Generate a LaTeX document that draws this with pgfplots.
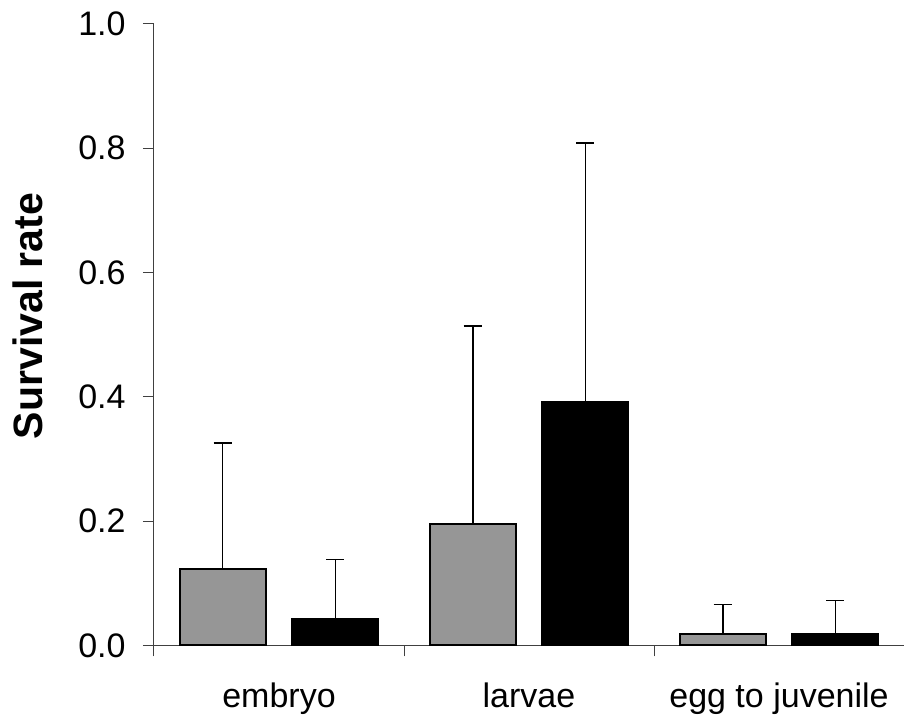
\documentclass[border=0pt]{standalone}
\usepackage{pgfplots}
\pgfplotsset{compat=1.18}
\usepackage{fontspec}
\setmainfont{Liberation Sans}
\definecolor{bargray}{RGB}{150,150,150}
\begin{document}
\begin{tikzpicture}
\useasboundingbox (-77pt,-38.35pt) rectangle (375pt,322.65pt);
\begin{axis}[
  scale only axis,
  width=375pt, height=310.65pt,
  at={(0,0)}, anchor=south west,
  xmin=0.5, xmax=3.5, ymin=0, ymax=1,
  axis x line=bottom, axis y line=left,
  axis line style={-, black!75, line width=0.5pt},
  tick style={black!75, line width=0.5pt},
  tick align=outside,
  xtick={0.5,1.5,2.5,3.5}, xticklabels={},
  major tick length=5.5pt,
  extra x ticks={1,2,3},
  extra x tick labels={embryo,larvae,egg to juvenile},
  extra x tick style={/pgfplots/major tick length=0pt,
    /pgfplots/tick label style={anchor=base, inner sep=0pt, yshift=-31pt}},
  ytick={0,0.2,0.4,0.6,0.8,1.0},
  yticklabel style={/pgf/number format/fixed, /pgf/number format/fixed zerofill,
    /pgf/number format/precision=1, anchor=east, inner sep=0pt, xshift=-8.5pt},
  /pgf/number format/assume math mode=true,
  tick label style={font=\fontsize{17}{20}\selectfont},
  ylabel={Survival rate},
  ylabel style={font=\bfseries\fontsize{20.5}{24}\selectfont, at={(axis description cs:-0.168,0.53)}, anchor=center},
  ybar, bar width=43pt,
  clip=false,
]
\addplot[ybar, bar shift=-28.2pt, fill=bargray, draw=black, line width=1pt,
  error bars/.cd, y dir=plus, y explicit,
  error bar style={black, line width=0.9pt},
  error mark options={black, rotate=90, mark size=4.5pt, line width=0.9pt}]
  coordinates {(1,0.123) +- (0,0.202) (2,0.195) +- (0,0.319) (3,0.0177) +- (0,0.048)};
\addplot[ybar, bar shift=28.2pt, fill=black, draw=black, line width=1pt,
  error bars/.cd, y dir=plus, y explicit,
  error bar style={black, line width=0.9pt},
  error mark options={black, rotate=90, mark size=4.5pt, line width=0.9pt}]
  coordinates {(1,0.042) +- (0,0.096) (2,0.391) +- (0,0.417) (3,0.018) +- (0,0.054)};
\end{axis}
\end{tikzpicture}
\end{document}
